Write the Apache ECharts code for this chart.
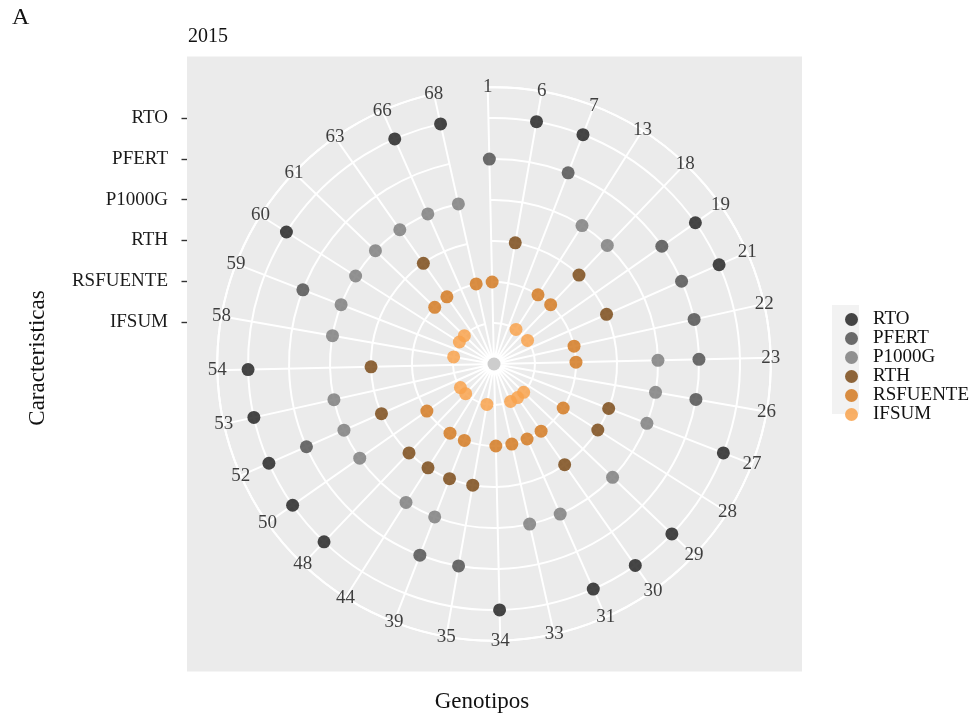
<!DOCTYPE html>
<html>
<head>
<meta charset="utf-8">
<script src="https://cdn.jsdelivr.net/npm/echarts@6/dist/echarts.min.js"></script>
<style>
  html, body { margin: 0; padding: 0; background: #ffffff; }
  #chart { width: 975px; height: 721px; }
</style>
</head>
<body>
<div id="chart"></div>
<script>
// Genotypes around the circle, clockwise from the top
const genotypes = ['1', '6', '7', '13', '18', '19', '21', '22', '23', '26', '27', '28', '29', '30', '31',
  '33', '34', '35', '39', '44', '48', '50', '52', '53', '54', '58', '59', '60', '61', '63', '66', '68'];

// Characteristics, from the innermost ring to the outermost
const characteristics = ['IFSUM', 'RSFUENTE', 'RTH', 'P1000G', 'PFERT', 'RTO'];

// Legend order (top to bottom)
const legendOrder = ['RTO', 'PFERT', 'P1000G', 'RTH', 'RSFUENTE', 'IFSUM'];

// Genotypes that stand out in each characteristic
const rtoGenotypes = ['6', '7', '19', '21', '27', '29', '30', '31', '34', '48', '50', '52', '53', '54', '60', '66', '68'];
const pfertGenotypes = ['1', '7', '19', '21', '22', '23', '26', '35', '39', '52', '59'];
const p1000gGenotypes = ['13', '18', '23', '26', '27', '29', '31', '33', '39', '44', '50', '52', '53', '58', '59', '60', '61', '63', '66', '68'];
const rthGenotypes = ['6', '18', '21', '27', '28', '30', '35', '39', '44', '48', '52', '54', '63'];
const rsfuenteGenotypes = ['1', '13', '18', '22', '23', '28', '30', '31', '33', '34', '39', '44', '50', '61', '63', '68'];
const ifsumGenotypes = ['13', '19', '29', '30', '31', '35', '48', '50', '58', '60', '61'];

// Record without a characteristic (sits at the centre)
const missingGenotypes = ['1'];

const membersByCharacteristic = {
  RTO: rtoGenotypes,
  PFERT: pfertGenotypes,
  P1000G: p1000gGenotypes,
  RTH: rthGenotypes,
  RSFUENTE: rsfuenteGenotypes,
  IFSUM: ifsumGenotypes
};

const palette = {
  RTO: '#262626',
  PFERT: '#525252',
  P1000G: '#7f7f7f',
  RTH: '#7b4b19',
  RSFUENTE: '#d47a22',
  IFSUM: '#f8a24c'
};

const FONT = '"Liberation Serif", "DejaVu Serif", serif';
const RING_COUNT = characteristics.length;
const LABEL_RING = RING_COUNT * 1.125;   // genotype labels sit just outside the last ring
const GRID_WHITE = '#ffffff';
const GRID_WIDTH = 2;

const chart = echarts.init(document.getElementById('chart'), null, { renderer: 'canvas' });

const pointSeries = legendOrder.map(function (name) {
  const level = characteristics.indexOf(name) + 1;
  return {
    name: name,
    type: 'scatter',
    coordinateSystem: 'polar',
    polarIndex: 0,
    symbol: 'circle',
    symbolSize: 13,
    itemStyle: { color: palette[name], opacity: 0.85 },
    emphasis: { disabled: true },
    data: membersByCharacteristic[name].map(function (g) { return [level, g]; }),
    z: 4
  };
});

const option = {
  animation: false,
  backgroundColor: '#ffffff',
  graphic: [
    { type: 'rect', z: -100, shape: { x: 187, y: 56.5, width: 615, height: 615 }, style: { fill: '#ebebeb' } },
    { type: 'rect', z: -100, shape: { x: 832, y: 305, width: 27, height: 109 }, style: { fill: '#f2f2f2' } },
    { type: 'text', x: 12, y: 18, style: { text: 'A', font: '24px ' + FONT, fill: '#111111', textVerticalAlign: 'middle' } },
    { type: 'text', x: 188, y: 37, style: { text: '2015', font: '20px ' + FONT, fill: '#111111', textVerticalAlign: 'middle' } },
    { type: 'text', x: 482, y: 702, style: { text: 'Genotipos', font: '23px ' + FONT, fill: '#111111', textAlign: 'center', textVerticalAlign: 'middle' } },
    { type: 'text', x: 38, y: 358, rotation: Math.PI / 2, style: { text: 'Caracteristicas', font: '23px ' + FONT, fill: '#111111', textAlign: 'center', textVerticalAlign: 'middle' } }
  ],
  legend: {
    data: legendOrder,
    orient: 'vertical',
    left: 840,
    top: 305,
    itemWidth: 13,
    itemHeight: 13,
    itemGap: 0,
    icon: 'circle',
    selectedMode: false,
    textStyle: { fontFamily: FONT, fontSize: 19, color: '#111111', lineHeight: 18, padding: [0, 0, 0, 10] }
  },
  polar: { center: [494, 364], radius: 276.75 },
  angleAxis: {
    type: 'category',
    data: genotypes,
    boundaryGap: false,
    startAngle: 91.3,
    clockwise: true,
    axisLine: { show: true, lineStyle: { color: GRID_WHITE, width: GRID_WIDTH } },
    axisTick: { show: false, interval: 0 },
    axisLabel: { show: false, interval: 0 },
    splitLine: { show: true, interval: 0, lineStyle: { color: GRID_WHITE, width: GRID_WIDTH } },
    z: 1
  },
  radiusAxis: {
    type: 'value',
    min: 0,
    max: LABEL_RING,
    interval: 1,
    axisLine: { show: false },
    axisTick: { show: false },
    axisLabel: { show: false },
    splitLine: { show: true, lineStyle: { color: GRID_WHITE, width: GRID_WIDTH } },
    z: 1
  },
  grid: { left: 187, top: 118, width: 10, height: 204, containLabel: false, outerBoundsMode: 'none' },
  xAxis: { type: 'value', show: false },
  yAxis: {
    type: 'category',
    data: characteristics,
    boundaryGap: false,
    position: 'left',
    axisLine: { show: false },
    axisTick: { show: true, length: 5.5, lineStyle: { color: '#333333', width: 1.4 } },
    axisLabel: { margin: 19, fontFamily: FONT, fontSize: 19, color: '#1a1a1a' },
    splitLine: { show: false }
  },
  series: pointSeries.concat([
    {
      name: 'NA',
      type: 'scatter',
      coordinateSystem: 'polar',
      symbolSize: 13,
      itemStyle: { color: '#c8c8c8', opacity: 0.9 },
      emphasis: { disabled: true },
      data: missingGenotypes.map(function (g) { return [0, g]; }),
      z: 4
    },
    {
      // genotype names around the outer ring
      name: 'genotype-labels',
      type: 'scatter',
      coordinateSystem: 'polar',
      silent: true,
      symbolSize: 1,
      itemStyle: { color: 'rgba(0,0,0,0)' },
      data: genotypes.map(function (g) { return [LABEL_RING, g]; }),
      label: {
        show: true,
        position: 'inside',
        formatter: function (p) { return p.value[1]; },
        fontFamily: FONT,
        fontSize: 19,
        color: '#111111'
      },
      z: 5
    }
  ])
};

chart.setOption(option);
</script>
</body>
</html>
